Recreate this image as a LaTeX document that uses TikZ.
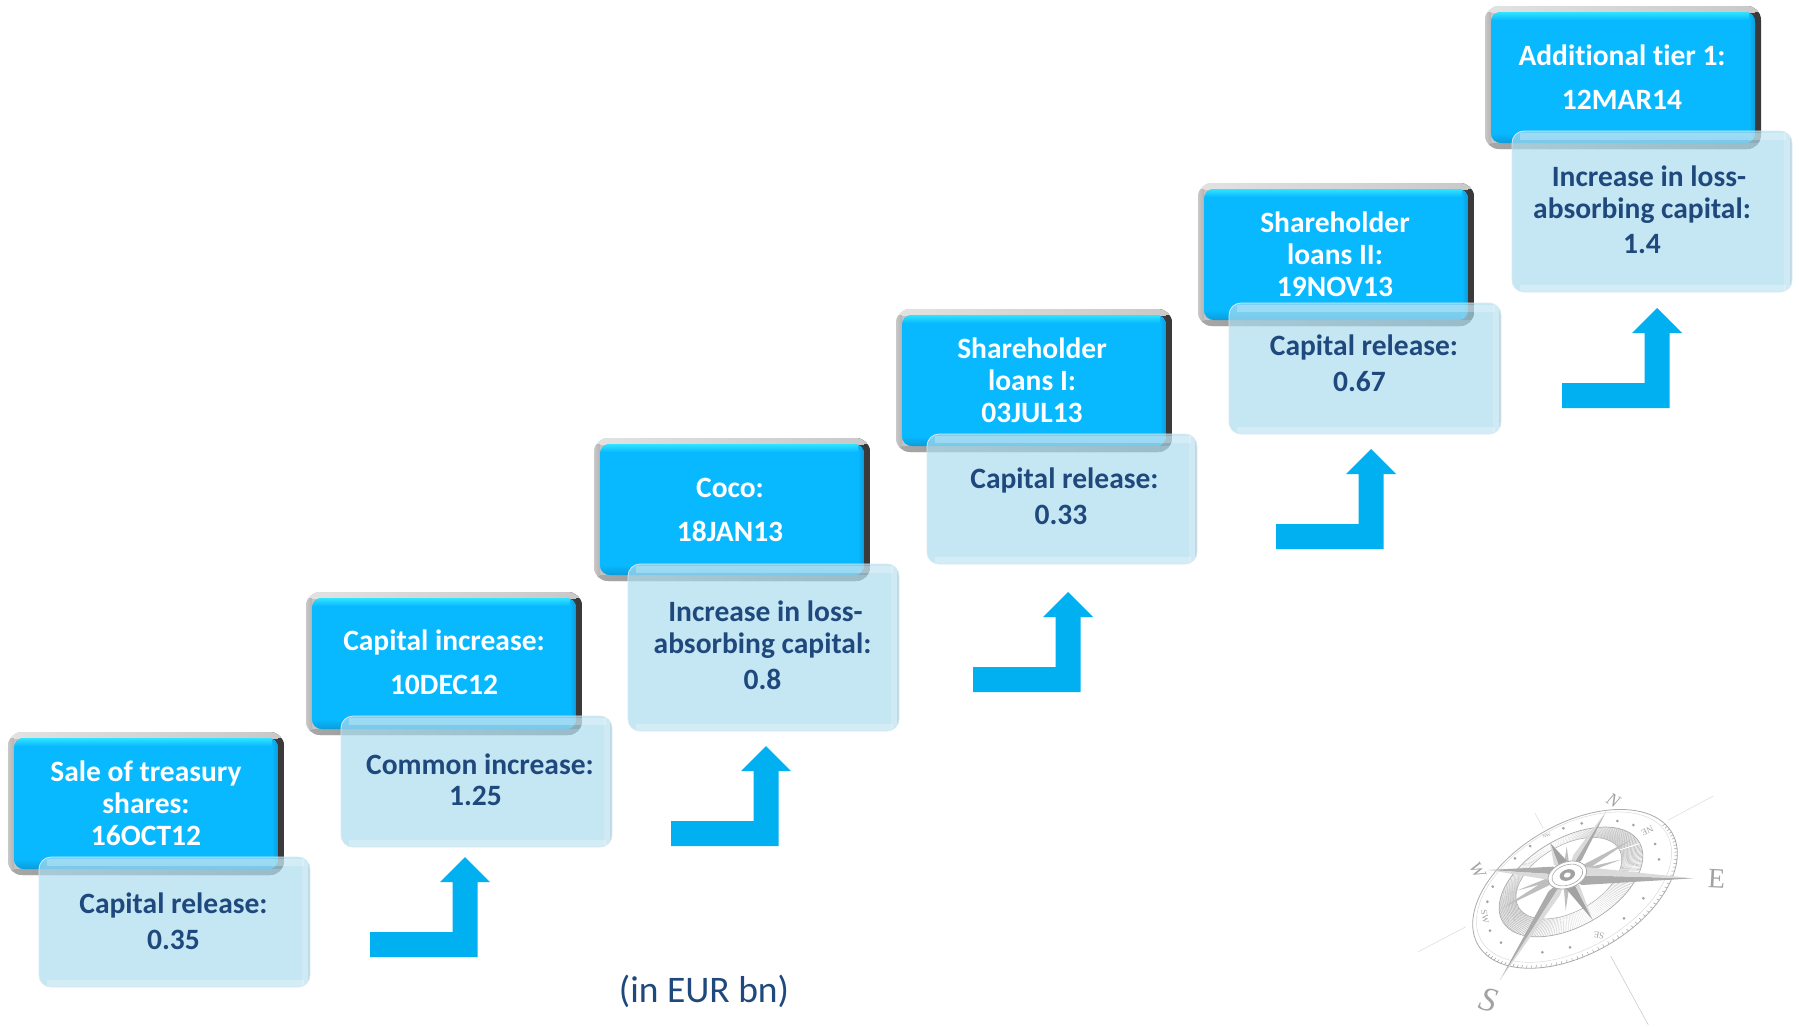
\documentclass[tikz,border=0pt]{standalone}
\usepackage{fontspec}
\setmainfont[Ligatures=NoCommon]{Carlito}
\newfontfamily\serifcomp{Liberation Serif}
\usetikzlibrary{calc}
\definecolor{boxblue}{HTML}{09B9FF}
\definecolor{navy}{HTML}{1F497D}
\definecolor{arrowblue}{HTML}{00B0F0}
\definecolor{paleblue}{HTML}{ACDBEE}
\definecolor{compgray}{HTML}{ABABAB}
\definecolor{compdark}{HTML}{A2A2A2}
\definecolor{complight}{HTML}{DADADA}
\definecolor{frameA}{HTML}{B4B4B4}
\definecolor{frameC}{HTML}{3A3A3A}
\definecolor{frameD}{HTML}{E2E2E2}
\definecolor{frameE}{HTML}{C8C8C8}
\definecolor{frameF}{HTML}{A8A8A8}
\definecolor{frameG}{HTML}{707070}
\definecolor{paleedge}{HTML}{D6E9F1}
\definecolor{topcyan}{HTML}{30E4FF}
\definecolor{lowblue}{HTML}{0A9CD8}
\tikzset{
  darktext/.style={align=center,text=white,font=\fontsize{29.5}{32}\selectfont\bfseries,inner sep=0pt},
  lighttext/.style={align=center,text=navy,font=\fontsize{29.5}{32}\selectfont\bfseries,inner sep=0pt},
  blockarrow/.style={fill=arrowblue,draw=none},
  comptick/.style={draw=compgray,line width=.35pt},
  compline/.style={draw=compgray,line width=.5pt},
  completter/.style={text=compdark,inner sep=0pt},
}
% name, left, top, text x offset, text y offset, text
\newcommand\darkbox[6]{%
  \begin{scope}
    \clip[rounded corners=14pt] (#2,#3) rectangle +(276,143);
    \shade[left color=frameE,right color=frameC] (#2,#3) rectangle +(276,143);
    \shade[left color=frameD,right color=frameE] (#2,#3) rectangle +(276,6);
    \shade[left color=frameF,right color=frameG] (#2,#3+137) rectangle +(276,6);
    \shade[left color=frameE,right color=frameA] (#2,#3+6) rectangle +(6,131);
    \fill[frameC] (#2+270,#3+6) rectangle +(6,131);
  \end{scope}
  \begin{scope}
    \clip[rounded corners=10pt] (#2+6,#3+6) rectangle (#2+270,#3+137);
    \fill[boxblue] (#2+6,#3+6) rectangle (#2+270,#3+137);
    \shade[top color=topcyan,bottom color=boxblue] (#2+6,#3+6) rectangle (#2+270,#3+14);
    \shade[top color=boxblue,bottom color=lowblue] (#2+6,#3+127) rectangle (#2+270,#3+137);
    \shade[left color=boxblue,right color=lowblue] (#2+264,#3+6) rectangle (#2+270,#3+137);
  \end{scope}
  \node[darktext] (#1) at (#2+138+#4,#3+71.5+#5) {#6};
}
% name, left, top, bottom, width, text offset y, text
\newcommand\lightbox[7]{%
  \fill[paleblue,fill opacity=.7,rounded corners=12pt] (#2,#3) rectangle (#2+#5,#4);
  \begin{scope}
    \clip[rounded corners=12pt] (#2,#3) rectangle (#2+#5,#4);
    \fill[white,fill opacity=.25] (#2+8,#3+2) rectangle (#2+#5-6,#3+9);
    \fill[white,fill opacity=.25] (#2+8,#4-7) rectangle (#2+#5-6,#4);
    \fill[white,fill opacity=.2] (#2+#5-8,#3) rectangle (#2+#5,#4);
    \fill[black,fill opacity=.08] (#2+#5-2.5,#3+4) rectangle (#2+#5,#4-4);
  \end{scope}
  \draw[paleedge,line width=.8pt,rounded corners=12pt] (#2,#3) rectangle (#2+#5,#4);
  \node[lighttext] (#1) at (#2+#5/2-1,#3/2+#4/2+#6) {#7};
}
% tip x, tip y
\newcommand\upturn[2]{%
  \fill[blockarrow] (#1,#2) -- (#1+25,#2+25) -- (#1+12.5,#2+25) -- (#1+12.5,#2+100)
    -- (#1-95,#2+100) -- (#1-95,#2+75) -- (#1-12.5,#2+75) -- (#1-12.5,#2+25) -- (#1-25,#2+25) -- cycle;
}
\begin{document}
\begin{tikzpicture}[x=1pt,y=-1pt]
\useasboundingbox (0,0) rectangle (1799,1026);

% stages
\darkbox{d1}{8}{732}{0}{0}{Sale of treasury\\shares:\\16OCT12}
\lightbox{l1}{39}{857}{987}{271}{-1}{Capital release:\\[4pt]0.35}
\darkbox{d2}{306}{592}{0}{-1}{Capital increase:\\[12pt]10DEC12}
\lightbox{l2}{341}{716}{847}{271}{-2}{\hspace*{9pt}Common increase:\\[-1pt]1.25}
\darkbox{d3}{594}{438}{-2}{0}{Coco:\\[12pt]18JAN13}
\lightbox{l3}{628}{564}{731}{271}{-2}{\hspace*{6pt}Increase in loss-\\absorbing capital:\\[4pt]0.8}
\darkbox{d4}{896}{309}{-2}{0}{Shareholder\\loans I:\\03JUL13}
\lightbox{l4}{927}{434}{564}{270}{-2.5}{\hspace*{7pt}Capital release:\\[4pt]0.33}
\darkbox{d5}{1198}{183}{-1}{0}{Shareholder\\loans II:\\19NOV13}
\lightbox{l5}{1229}{303}{434}{272}{-5}{\hspace*{0pt}Capital release:\\[4pt]0.67\hspace*{9pt}}
\darkbox{d6}{1485}{6}{-1}{0}{Additional tier 1:\\[12pt]12MAR14}
\lightbox{l6}{1512}{131}{292}{280}{-2}{\hspace*{14pt}Increase in loss-\kern18pt\relax\\absorbing capital:\kern18pt\relax\\[3pt]1.4\kern18pt\relax}

% arrows
\upturn{465}{857}
\upturn{766}{746}
\upturn{1068}{592}
\upturn{1371}{449}
\upturn{1657}{308}

\node[text=navy,inner sep=0pt,font=\fontsize{37.5}{40}\selectfont] (unit) at (704,991) {(in EUR bn)};

% compass: rays and rings
\begin{scope}[shift={(1400,770)},x=.33333pt,y=-.33333pt]
  \draw[compline,draw=complight] (405,130) -- (430,175);
  \draw[compline,draw=complight!90!black] (632,558) -- (745,765);
  \draw[compline,draw=complight] (55,545) -- (198,470);
  \draw[compline,draw=complight] (805,150) -- (940,78);
\end{scope}
\begin{scope}[shift={(1567,875)},rotate=30,x=1pt,y=1pt]
  \draw[draw=compgray,line width=.8pt] (0,-16) ellipse [x radius=112,y radius=65];
  \draw[draw=complight,line width=.5pt] (0,-14) ellipse [x radius=107,y radius=61];
  \draw[draw=compgray,line width=.7pt] (0,-8) ellipse [x radius=79,y radius=44];
  \draw[draw=compgray,line width=.5pt] (0,-3.7) ellipse [x radius=58,y radius=33];
  \foreach \ang in {0,1.5,...,358}{
    \pgfmathsetmacro\hatchop{.2+.8*abs(cos(\ang))}
    \draw[comptick,line width=.4pt,draw opacity=\hatchop] ({58*cos(\ang)},{-3.7+33*sin(\ang)}) -- ({79*cos(\ang)},{-8+44*sin(\ang)});
  }
  \foreach \ang in {-170,-167,...,10}{
    \draw[comptick,draw=compdark,line width=.5pt] ({112*cos(\ang)},{-16+65*sin(\ang)}) -- ({109*cos(\ang)},{-16+62*sin(\ang)});
  }
\end{scope}
% compass: card
\begin{scope}[shift={(1400,770)},x=.33333pt,y=-.33333pt]
  \foreach \dx/\dy in {652/153,700/165,765/222,777/268,730/385,672/445,510/532,427/547,303/518,270/482,262/395,278/350,345/265,390/228,490/175,545/160}{
    \fill[compdark] (\dx,\dy) circle [radius=1.5pt];
  }
  % minor spikes
  \foreach \tx/\ty/\ax/\ay/\bx/\by in {695/208/520/300/530/320,305/415/480/330/470/310,665/268/530/300/540/315,350/362/470/330/465/315,500/230/490/300/510/300,497/422/490/335/510/335}{
    \fill[compdark!70!white] (\tx,\ty) -- (\ax,\ay) -- (\bx,\by) -- cycle;
  }
  % diagonal points
  \fill[compdark] (450,218) -- (478,290) -- (500,272) -- cycle;
  \fill[complight] (450,218) -- (478,290) -- (462,285) -- cycle;
  \fill[compdark] (578,450) -- (522,340) -- (500,358) -- cycle;
  \fill[complight] (578,450) -- (522,340) -- (538,345) -- cycle;
  % main points
  \fill[compgray] (618,125) -- (545,270) -- (500,315) -- cycle;
  \fill[complight] (618,125) -- (520,255) -- (500,315) -- cycle;
  \fill[compgray] (300,630) -- (445,365) -- (500,315) -- cycle;
  \fill[complight] (300,630) -- (480,375) -- (500,315) -- cycle;
  \fill[compgray] (880,325) -- (545,345) -- (500,315) -- cycle;
  \fill[complight] (880,325) -- (545,290) -- (500,315) -- cycle;
  \fill[compgray] (265,300) -- (460,290) -- (500,315) -- cycle;
  \fill[complight] (265,300) -- (450,330) -- (500,315) -- cycle;
  % hub
  \begin{scope}[shift={(502,315)},rotate=20]
    \fill[white] (0,0) ellipse [x radius=20pt,y radius=13pt];
    \draw[compgray,line width=.8pt] (0,0) ellipse [x radius=20pt,y radius=13pt];
    \draw[compgray,line width=.6pt] (0,0) ellipse [x radius=16pt,y radius=10pt];
    \fill[compdark] (0,0) ellipse [x radius=8pt,y radius=5.5pt];
    \fill[white] (0,0) ellipse [x radius=3.5pt,y radius=2.5pt];
  \end{scope}
  % labels
  \node[completter,font=\serifcomp\itshape\fontsize{18}{18}\selectfont,rotate=-30] (cN) at (640,90) {N};
  \node[completter,font=\serifcomp\itshape\fontsize{34}{34}\selectfont,rotate=-15] (cS) at (265,690) {S};
  \node[completter,font=\serifcomp\fontsize{28}{28}\selectfont,rotate=-3] (cE) at (950,325) {E};
  \node[completter,font=\serifcomp\itshape\fontsize{18}{18}\selectfont,rotate=-60] (cW) at (232,300) {W};
  \node[completter,font=\serifcomp\fontsize{9}{9}\selectfont,rotate=205] (cNE) at (742,182) {NE};
  \node[completter,font=\serifcomp\fontsize{9}{9}\selectfont,rotate=170] (cSE) at (597,497) {SE};
  \node[completter,font=\serifcomp\fontsize{9}{9}\selectfont,rotate=-80] (cSW) at (255,440) {SW};
  \node[completter,font=\serifcomp\fontsize{5}{5}\selectfont,rotate=20] (cNW) at (440,196) {NW};
\end{scope}
\end{tikzpicture}
\end{document}
